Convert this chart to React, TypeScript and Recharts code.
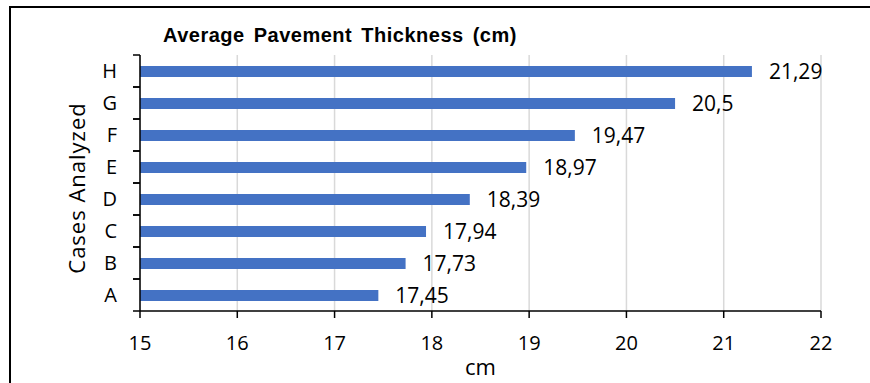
import { Bar, BarChart, CartesianGrid, LabelList, XAxis, YAxis } from "recharts";

const cases = ["A", "B", "C", "D", "E", "F", "G", "H"];
const thickness = [17.45, 17.73, 17.94, 18.39, 18.97, 19.47, 20.5, 21.29];
const xTicks = [15, 16, 17, 18, 19, 20, 21, 22];

const data = cases.map((name, i) => ({ name, value: thickness[i] }));

const W = 870;
const H = 383;
const PLOT_TOP = 55;
const PLOT_BOTTOM = 311;
const BAND = (PLOT_BOTTOM - PLOT_TOP) / cases.length;
const FONT = "'Open Sans', sans-serif";

const formatComma = (v: number) => String(v).replace(".", ",");

function CategoryTick(props: any) {
  const { x, y, payload } = props;
  return (
    <g>
      <line x1={x + 16} x2={x + 23} y1={y - BAND / 2} y2={y - BAND / 2} stroke="#000" strokeWidth={1.5} />
      <line x1={x + 16} x2={x + 23} y1={y + BAND / 2} y2={y + BAND / 2} stroke="#000" strokeWidth={1.5} />
      <text x={x} y={y} dy="0.36em" textAnchor="end" fontSize={20} fontFamily={FONT} fill="#000">
        {payload.value}
      </text>
    </g>
  );
}

function ValueTick(props: any) {
  const { x, y, payload } = props;
  return (
    <text x={x} y={y} dy="0.71em" textAnchor="middle" fontSize={20} fontFamily={FONT} fill="#000">
      {payload.value}
    </text>
  );
}

export default function App() {
  return (
    <div
      style={{
        position: "fixed",
        left: 0,
        top: 0,
        width: W,
        height: H,
        overflow: "hidden",
        background: "#fff",
      }}
    >
      <div
        style={{
          position: "absolute",
          left: 9,
          top: 6,
          width: W + 40,
          height: H + 40,
          borderLeft: "2px solid #000",
          borderTop: "2px solid #000",
        }}
      />
      <div
        style={{
          position: "absolute",
          left: 163,
          top: 26,
          fontFamily: "'Liberation Sans', Arial, sans-serif",
          fontWeight: 700,
          fontSize: 20,
          letterSpacing: 0.5,
          wordSpacing: 3,
          lineHeight: "19px",
          color: "#000",
          whiteSpace: "nowrap",
        }}
      >
        Average Pavement Thickness (cm)
      </div>
      <div style={{ position: "absolute", left: 0, top: 0 }}>
        <BarChart
          width={W}
          height={H}
          data={data}
          layout="vertical"
          margin={{ top: PLOT_TOP, right: 49, bottom: 12, left: 80 }}
        >
          <CartesianGrid horizontal={false} stroke="#d9d9d9" strokeWidth={1.5} />
          <XAxis
            type="number"
            domain={[15, 22]}
            ticks={xTicks}
            allowDataOverflow
            height={60}
            tickSize={7}
            tickMargin={18}
            tick={<ValueTick />}
            axisLine={{ stroke: "#000", strokeWidth: 1.5 }}
            tickLine={{ stroke: "#000", strokeWidth: 1.5 }}
            label={({ viewBox }: any) => (
              <text
                x={viewBox.x + viewBox.width / 2}
                y={375}
                textAnchor="middle"
                fontSize={22}
                fontFamily={FONT}
                fill="#000"
              >
                cm
              </text>
            )}
          />
          <YAxis
            type="category"
            dataKey="name"
            reversed
            width={60}
            tickSize={7}
            tickMargin={16}
            tickLine={false}
            tick={<CategoryTick />}
            axisLine={{ stroke: "#000", strokeWidth: 1.5 }}
            label={({ viewBox }: any) => {
              const cy = viewBox.y + viewBox.height / 2 + 5;
              return (
                <text
                  x={85}
                  y={cy}
                  transform={`rotate(-90 85 ${cy})`}
                  textAnchor="middle"
                  fontSize={22}
                  letterSpacing={1}
                  fontFamily={FONT}
                  fill="#000"
                >
                  Cases Analyzed
                </text>
              );
            }}
          />
          <Bar dataKey="value" fill="#4472C4" barSize={11} isAnimationActive={false}>
            <LabelList
              dataKey="value"
              position="right"
              offset={17}
              formatter={(v: any) => formatComma(v)}
              style={{ fontSize: 21, fontFamily: FONT, fill: "#000" }}
            />
          </Bar>
        </BarChart>
      </div>
    </div>
  );
}
